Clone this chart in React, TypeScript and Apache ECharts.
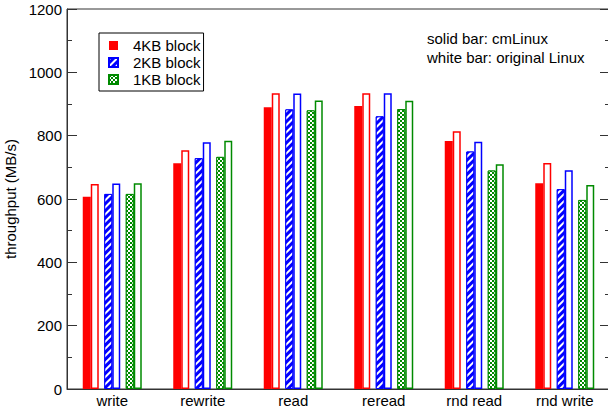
import React, { useEffect, useRef } from "react";
import * as echarts from "echarts";

const categories = ["write", "rewrite", "read", "reread", "rnd read", "rnd write"];
const cm4KB = [607, 713, 890, 894, 783, 650];
const orig4KB = [647, 754, 934, 934, 814, 714];
const cm2KB = [616, 729, 883, 861, 750, 631];
const orig2KB = [649, 779, 933, 934, 781, 691];
const cm1KB = [616, 733, 880, 884, 690, 597];
const orig1KB = [650, 784, 911, 910, 710, 644];
const spacer = [0, 0, 0, 0, 0, 0];
const legendNames = ["4KB block", "2KB block", "1KB block"];
const yName = "throughput (MB/s)";
const note1 = "solid bar: cmLinux";
const note2 = "white bar: original Linux";

const RED = "#ff0000";
const BLUE = "#0000ff";
const GREEN = "#008a00";
const FONT = "'Liberation Sans', Arial, Helvetica, sans-serif";
const FS = 15;

export default function App() {
  const ref = useRef<HTMLDivElement>(null);
  useEffect(() => {
    if (!ref.current) return;
    const chart = echarts.init(ref.current, undefined, { renderer: "svg" });
    const BW = 8;
    const solid = (name: string, data: number[], color: string, decal?: any) => ({
      name,
      type: "bar",
      data,
      barWidth: BW,
      barGap: "0%",
      itemStyle: decal
        ? { color, borderColor: color, borderWidth: 1, decal }
        : { color },
    });
    const white = (name: string, data: number[], color: string) => ({
      name,
      type: "bar",
      data,
      barWidth: BW,
      barGap: "0%",
      itemStyle: { color: "#ffffff", borderColor: color, borderWidth: 1.5 },
    });
    const gap = (name: string) => ({
      name,
      type: "bar",
      data: spacer,
      barWidth: 5.5,
      barGap: "0%",
      silent: true,
      itemStyle: { color: "transparent", borderWidth: 0 },
    });
    const yCommon = {
      type: "value",
      min: 0,
      max: 1200,
      interval: 200,
      splitLine: { show: false },
      axisLine: { show: true, lineStyle: { color: "#333", width: 1 } },
      axisTick: { show: true, inside: true, length: 10, lineStyle: { color: "#333" } },
      minorTick: { show: true, splitNumber: 2, length: 5, lineStyle: { color: "#333" } },
    };
    chart.setOption({
      animation: false,
      textStyle: { fontFamily: FONT },
      grid: {
        left: 67,
        right: -2,
        top: 9,
        bottom: 27,
        outerBoundsMode: "none",
        containLabel: false,
        show: true,
        borderColor: "#333",
        borderWidth: 1,
        backgroundColor: "transparent",
      },
      legend: {
        data: legendNames,
        orient: "vertical",
        left: 99,
        top: 33,
        padding: [5, 3, 4, 9],
        itemGap: 2,
        itemWidth: 9,
        itemHeight: 9,
        icon: "rect",
        borderColor: "#000",
        borderWidth: 1,
        selectedMode: false,
        textStyle: { fontSize: FS, color: "#000", lineHeight: FS, padding: [0, 0, 0, 10], fontFamily: FONT },
      },
      xAxis: {
        type: "category",
        data: categories,
        boundaryGap: true,
        axisTick: { show: false },
        axisLine: { lineStyle: { color: "#333" } },
        axisLabel: { fontSize: FS, color: "#000", margin: 4, fontFamily: FONT },
      },
      yAxis: [
        {
          ...yCommon,
          position: "left",
          name: yName,
          nameLocation: "middle",
          nameGap: 45,
          nameTextStyle: { fontSize: FS, color: "#000", fontFamily: FONT },
          axisLabel: {
            fontSize: FS,
            color: "#000",
            margin: 5,
            fontFamily: FONT,
            formatter: (v: number) => String(v),
          },
        },
        {
          ...yCommon,
          position: "right",
          axisLabel: { show: false },
        },
      ],
      graphic: [
        {
          type: "text",
          x: 427,
          y: 38,
          style: { text: note1, fontSize: FS, fill: "#000", fontFamily: FONT, verticalAlign: "middle" },
        },
        {
          type: "text",
          x: 427,
          y: 57,
          style: { text: note2, fontSize: FS, fill: "#000", fontFamily: FONT, verticalAlign: "middle" },
        },
      ],
      series: [
        solid(legendNames[0], cm4KB, RED),
        white("4KB original", orig4KB, RED),
        gap("g1"),
        solid(legendNames[1], cm2KB, BLUE, {
          symbol: "rect",
          symbolSize: 1,
          color: "#ffffff",
          dashArrayX: [1, 0],
          dashArrayY: [2, 2.5],
          rotation: -Math.PI / 4,
        }),
        white("2KB original", orig2KB, BLUE),
        gap("g2"),
        solid(legendNames[2], cm1KB, GREEN, {
          symbol: "rect",
          symbolSize: 1,
          color: "#ffffff",
          dashArrayX: [[2, 2], [0, 2, 2, 0]],
          dashArrayY: [2, 0],
        }),
        white("1KB original", orig1KB, GREEN),
      ],
    });
    return () => chart.dispose();
  }, []);
  return (
    <div
      ref={ref}
      style={{ position: "fixed", left: 0, top: 0, width: 608, height: 416, background: "#fff" }}
    />
  );
}
